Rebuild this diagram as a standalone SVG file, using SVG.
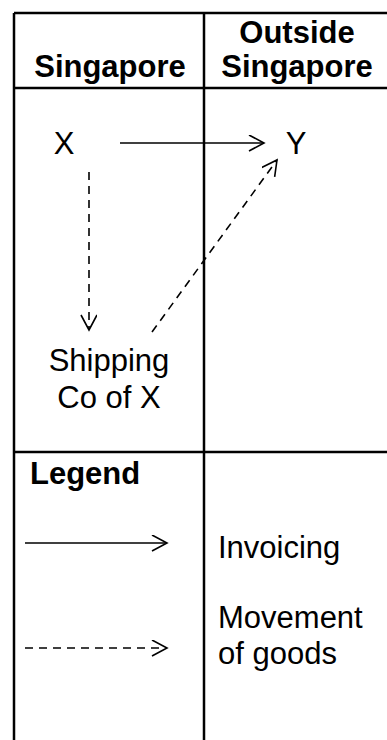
<svg xmlns="http://www.w3.org/2000/svg" width="387" height="740" viewBox="0 0 387 740">
<defs>
<marker id="open" markerWidth="20" markerHeight="20" refX="16" refY="8" orient="auto" markerUnits="userSpaceOnUse">
<path d="M1,0 L16,8 L1,16" fill="none" stroke="#000" stroke-width="1.6"/>
</marker>
<style>
.t{font-family:"Liberation Sans",Arial,sans-serif;font-size:31px;fill:#000}
.b{font-weight:bold}
.grid{stroke:#000;stroke-width:2.5;fill:none}
.c{stroke:#000;stroke-width:1.6;fill:none}
.d{stroke-dasharray:8 6}
</style>
</defs>
<rect width="387" height="740" fill="#fff"/>
<g id="table">
<path class="grid" d="M14,13 H387 M14,13 V740 M204,13 V740 M14,88 H387 M14,452 H387"/>
</g>
<g id="header-singapore"><text class="t b" x="110" y="77" text-anchor="middle">Singapore</text></g>
<g id="header-outside"><text class="t b" x="297" y="43" text-anchor="middle">Outside</text><text class="t b" x="297" y="77" text-anchor="middle">Singapore</text></g>
<g id="node-x"><text class="t" x="64" y="154" text-anchor="middle">X</text></g>
<g id="node-y"><text class="t" x="296" y="154" text-anchor="middle">Y</text></g>
<g id="node-shipping"><text class="t" x="109" y="371" text-anchor="middle">Shipping</text><text class="t" x="109" y="408" text-anchor="middle">Co of X</text></g>
<g id="legend"><text class="t b" x="30" y="484">Legend</text><text class="t" x="218" y="558">Invoicing</text><text class="t" x="218" y="628">Movement</text><text class="t" x="218" y="664">of goods</text></g>
<g id="connectors">
<line class="c" x1="120" y1="143" x2="264" y2="143" marker-end="url(#open)"/>
<line class="c d" x1="89" y1="172" x2="89" y2="330" marker-end="url(#open)"/>
<line class="c d" x1="152" y1="332" x2="277" y2="160" marker-end="url(#open)"/>
<line class="c" x1="25" y1="543" x2="167" y2="543" marker-end="url(#open)"/>
<line class="c d" x1="25" y1="648" x2="167" y2="648" marker-end="url(#open)"/>
</g>
</svg>
